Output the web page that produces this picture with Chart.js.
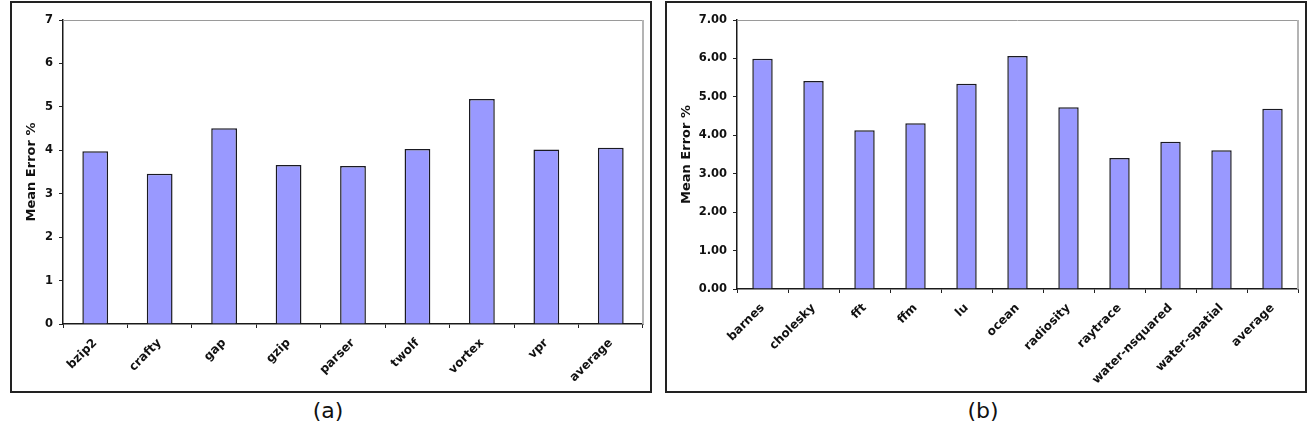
<!DOCTYPE html>
<html>
<head>
<meta charset="utf-8">
<script src="https://cdn.jsdelivr.net/npm/chart.js@4/dist/chart.umd.min.js"></script>
<style>
    body { margin: 0; background: #fff; width: 1312px; height: 437px; position: relative; overflow: hidden; }
    .panel { position: absolute; top: 1px; width: 642px; height: 392px; border: 2px solid #222; box-sizing: border-box; }
    .panel canvas { position: absolute; left: 0; top: 0; }
    .caption { position: absolute; top: 398px; width: 80px; text-align: center; font: 22px "DejaVu Sans", sans-serif; color: #111; }
</style>
</head>
<body>
<div class="panel" style="left:10px"><canvas id="chartA" width="638" height="388"></canvas></div>
<div class="panel" style="left:665px"><canvas id="chartB" width="638" height="388"></canvas></div>
<div class="caption" style="left:288px">(a)</div>
<div class="caption" style="left:943px">(b)</div>
<script>
// Données : SPEC (a) et SPLASH-2 (b)
const labelsA = ['bzip2', 'crafty', 'gap', 'gzip', 'parser', 'twolf', 'vortex', 'vpr', 'average'];
const errorA = [3.98, 3.46, 4.51, 3.66, 3.64, 4.03, 5.18, 4.02, 4.06];

const labelsB = ['barnes', 'cholesky', 'fft', 'ffm', 'lu', 'ocean', 'radiosity', 'raytrace',
    'water-nsquared', 'water-spatial', 'average'];
const errorB = [5.99, 5.41, 4.13, 4.31, 5.34, 6.06, 4.73, 3.41, 3.83, 3.61, 4.69];

const yTicksA = [0, 1, 2, 3, 4, 5, 6, 7];
const yTitle = 'Mean Error %';

const FONT = '"DejaVu Sans", sans-serif';

// cadre gris haut / droite de la zone de tracé
const plotFrame = {
    id: 'plotFrame',
    afterDatasetsDraw(chart) {
        const { ctx, chartArea: a } = chart;
        ctx.save();
        ctx.strokeStyle = '#9a9a9a';
        ctx.lineWidth = 1;
        ctx.beginPath();
        ctx.moveTo(a.left, a.top + 0.5);
        ctx.lineTo(a.right, a.top + 0.5);
        ctx.stroke();
        ctx.strokeStyle = '#b4b4b4';
        ctx.lineWidth = 2;
        ctx.beginPath();
        ctx.moveTo(a.right, a.top);
        ctx.lineTo(a.right, a.bottom);
        ctx.stroke();
        ctx.restore();
    }
};

function makeChart(id, labels, values, yAxisWidth, xAxisHeight, decimals) {
    return new Chart(document.getElementById(id), {
        type: 'bar',
        data: {
            labels: labels,
            datasets: [{
                data: values,
                backgroundColor: '#9999ff',
                borderColor: '#1a1a22',
                borderWidth: 1.5,
                categoryPercentage: 1,
                barPercentage: 0.4
            }]
        },
        options: {
            responsive: false,
            animation: false,
            events: [],
            layout: { padding: { top: 17, right: 7, left: 0, bottom: 0 } },
            plugins: { legend: { display: false }, tooltip: { enabled: false } },
            scales: {
                x: {
                    afterFit(scale) { scale.height = xAxisHeight; },
                    grid: { drawOnChartArea: false, drawTicks: true, tickLength: 4, tickColor: '#222', offset: true },
                    border: { display: true, color: '#1a1a1a', width: 1.5 },
                    ticks: {
                        minRotation: 45, maxRotation: 45, padding: 8, autoSkip: false,
                        color: '#111', font: { family: FONT, size: 12, weight: 'bold' }
                    }
                },
                y: {
                    min: 0, max: 7,
                    afterFit(scale) { scale.width = yAxisWidth; },
                    afterBuildTicks(scale) { scale.ticks = yTicksA.map(v => ({ value: v })); },
                    grid: { drawOnChartArea: false, drawTicks: true, tickLength: 4, tickColor: '#222' },
                    border: { display: true, color: '#1a1a1a', width: 1.5 },
                    ticks: {
                        padding: 6, color: '#111',
                        font: { family: FONT, size: 11.5, weight: 'bold' },
                        callback: v => Number(v).toFixed(decimals)
                    },
                    title: {
                        display: true, text: yTitle, color: '#111',
                        padding: { top: 12, bottom: 0 },
                        font: { family: FONT, size: 13, weight: 'bold' }
                    }
                }
            }
        },
        plugins: [plotFrame]
    });
}

makeChart('chartA', labelsA, errorA, 51, 67, 0);
makeChart('chartB', labelsB, errorB, 70, 102, 2);
</script>
</body>
</html>
